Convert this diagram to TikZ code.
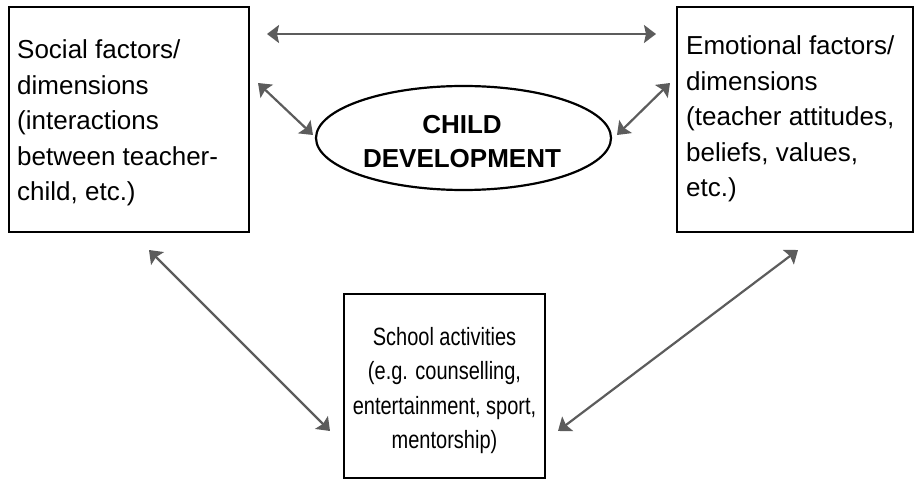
\documentclass[tikz,border=0pt]{standalone}
\usepackage{fontspec}
\setmainfont{Liberation Sans}
\usetikzlibrary{arrows.meta,shapes.geometric}
\definecolor{arrowgray}{RGB}{92,92,92}
\tikzset{
  boxnode/.style={draw=black, line width=2.2pt, minimum width=#1, inner sep=0pt},
  txt/.style={font=\fontsize{26}{35.5}\selectfont, align=left, inner sep=0pt, anchor=north west},
  conn/.style={draw=arrowgray, line width=2.2pt,
    {Stealth[length=12pt,width=18pt,inset=2pt]}-{Stealth[length=12pt,width=18pt,inset=2pt]}}
}
\begin{document}
\begin{tikzpicture}[x=1pt,y=-1pt]
\useasboundingbox (0,0) rectangle (916,481);
% boxes
\node[boxnode=240pt, minimum height=225pt] (social) at (129,119.5) {};
\node[boxnode=236pt, minimum height=225pt] (emotional) at (795,119.5) {};
\node[boxnode=201pt, minimum height=184pt] (school) at (444.5,386) {};
\node[draw=black, line width=2.2pt, ellipse, minimum width=295pt, minimum height=104pt, inner sep=0pt] (child) at (463.5,138) {};
% texts
\node[txt] (socialtxt) at (17,39.5) {Social factors/\\dimensions\\(interactions\\between teacher-\\child, etc.)};
\node[txt] (emotionaltxt) at (686,35.5) {Emotional factors/\\dimensions\\(teacher attitudes,\\beliefs, values,\\etc.)};
\node[font=\fontsize{26}{34}\selectfont\bfseries, align=center, inner sep=0pt, anchor=north] (childtxt) at (462,115) {CHILD\\DEVELOPMENT};
\node[inner sep=0pt, anchor=north, font=\fontsize{25}{34.5}\selectfont] (schooltxt) at (444.5,320.8)
  {\scalebox{0.8}[1]{\begin{tabular}{@{}c@{}}School activities\\(e.g. counselling,\\entertainment, sport,\\mentorship)\end{tabular}}};
% connector end points
\coordinate (t1) at (267,34);
\coordinate (t2) at (656,34);
\coordinate (l1) at (258,83);
\coordinate (l2) at (313,135);
\coordinate (r1) at (617,135);
\coordinate (r2) at (670,83);
\coordinate (bl1) at (149,250);
\coordinate (bl2) at (330,431);
\coordinate (br1) at (558,431);
\coordinate (br2) at (798,250);
% connectors
\draw[conn] (t1) -- (t2);
\draw[conn] (l1) -- (l2);
\draw[conn] (r1) -- (r2);
\draw[conn] (bl1) -- (bl2);
\draw[conn] (br1) -- (br2);
\end{tikzpicture}
\end{document}
